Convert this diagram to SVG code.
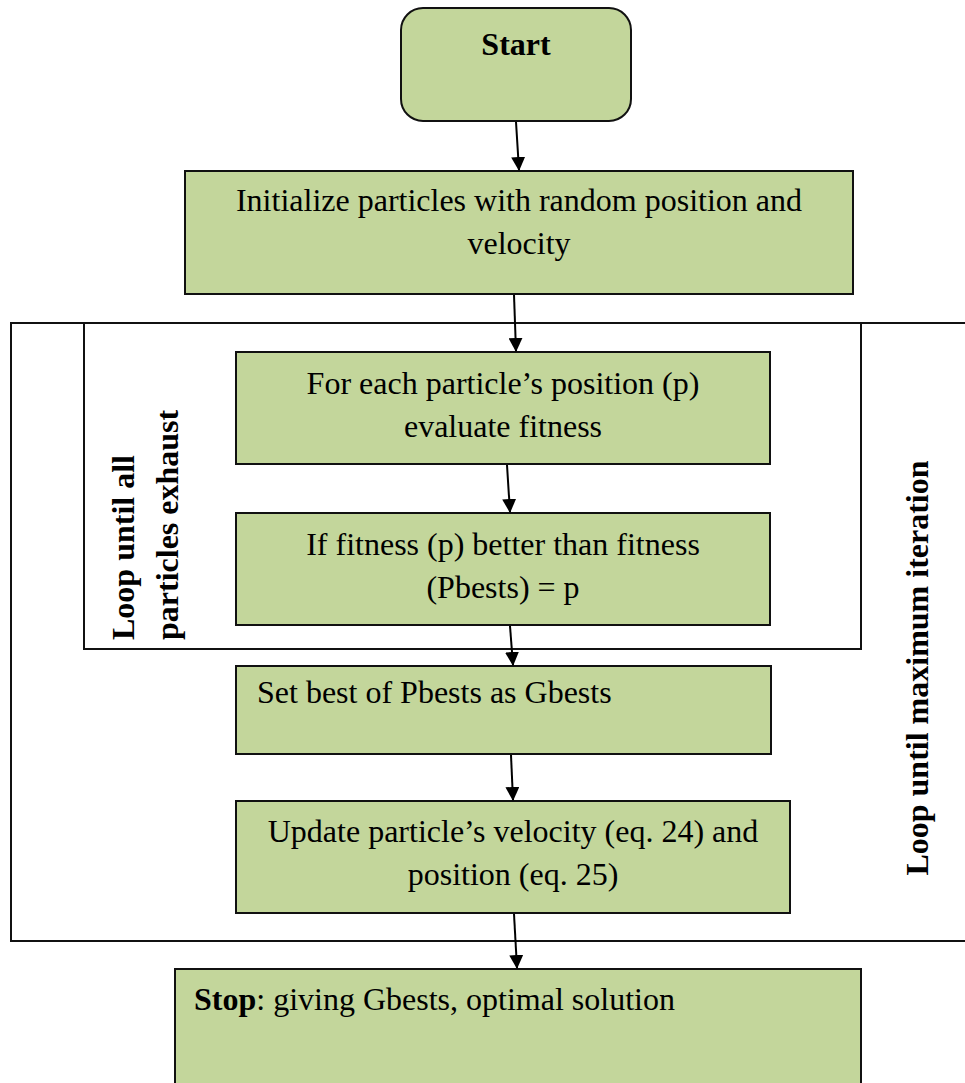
<svg xmlns="http://www.w3.org/2000/svg" width="965" height="1083" viewBox="0 0 965 1083">
<style>
.box{fill:#c3d69b;stroke:#111;stroke-width:2}
.frame{fill:none;stroke:#111;stroke-width:2}
.t{font-family:"Liberation Serif","Times New Roman",serif;font-size:32px;fill:#000}
.c{text-anchor:middle}
.b{font-weight:bold}
.conn{stroke:#000;stroke-width:2;fill:none;marker-end:url(#ah)}
</style>
<defs>
<marker id="ah" markerUnits="userSpaceOnUse" markerWidth="14" markerHeight="16" viewBox="0 0 14 16" refX="13" refY="7" orient="auto">
<path d="M0,0 L14,7 L0,14 Z" fill="#000"/>
</marker>
</defs>
<rect width="965" height="1083" fill="#fff"/>
<g id="outer-loop">
<path class="frame" d="M966,323 L11,323 L11,941 L966,941"/>
<text class="t b c" transform="translate(928,668) rotate(-90)">Loop until maximum iteration</text>
</g>
<g id="inner-loop">
<rect class="frame" x="84" y="323" width="777" height="326"/>
<text class="t b" transform="translate(134,640) rotate(-90)">Loop until all</text>
<text class="t b" transform="translate(178,640) rotate(-90)">particles exhaust</text>
</g>
<g id="start">
<rect class="box" x="401" y="8" width="230" height="113" rx="22"/>
<text class="t b c" x="516" y="55">Start</text>
</g>
<g id="init">
<rect class="box" x="185" y="171" width="668" height="123"/>
<text class="t c" x="519" y="211">Initialize particles with random position and</text>
<text class="t c" x="519" y="254">velocity</text>
</g>
<g id="evaluate">
<rect class="box" x="236" y="352" width="534" height="112"/>
<text class="t c" x="503" y="394">For each particle’s position (p)</text>
<text class="t c" x="503" y="437">evaluate fitness</text>
</g>
<g id="pbest">
<rect class="box" x="236" y="513" width="534" height="112"/>
<text class="t c" x="503" y="555">If fitness (p) better than fitness</text>
<text class="t c" x="503" y="598">(Pbests) = p</text>
</g>
<g id="gbest">
<rect class="box" x="236" y="666" width="535" height="88"/>
<text class="t" x="257" y="703">Set best of Pbests as Gbests</text>
</g>
<g id="update">
<rect class="box" x="236" y="801" width="554" height="112"/>
<text class="t c" x="513" y="842">Update particle’s velocity (eq. 24) and</text>
<text class="t c" x="513" y="885">position (eq. 25)</text>
</g>
<g id="stop">
<rect class="box" x="175" y="969" width="686" height="130"/>
<text class="t" x="194" y="1010"><tspan class="b">Stop</tspan>: giving Gbests, optimal solution</text>
</g>
<g id="connectors">
<path class="conn" d="M516,122 L519,170"/>
<path class="conn" d="M514,295 L516,351"/>
<path class="conn" d="M507,465 L510,512"/>
<path class="conn" d="M510,626 L513,665"/>
<path class="conn" d="M511,755 L513,800"/>
<path class="conn" d="M514,914 L517,968"/>
</g>
</svg>
